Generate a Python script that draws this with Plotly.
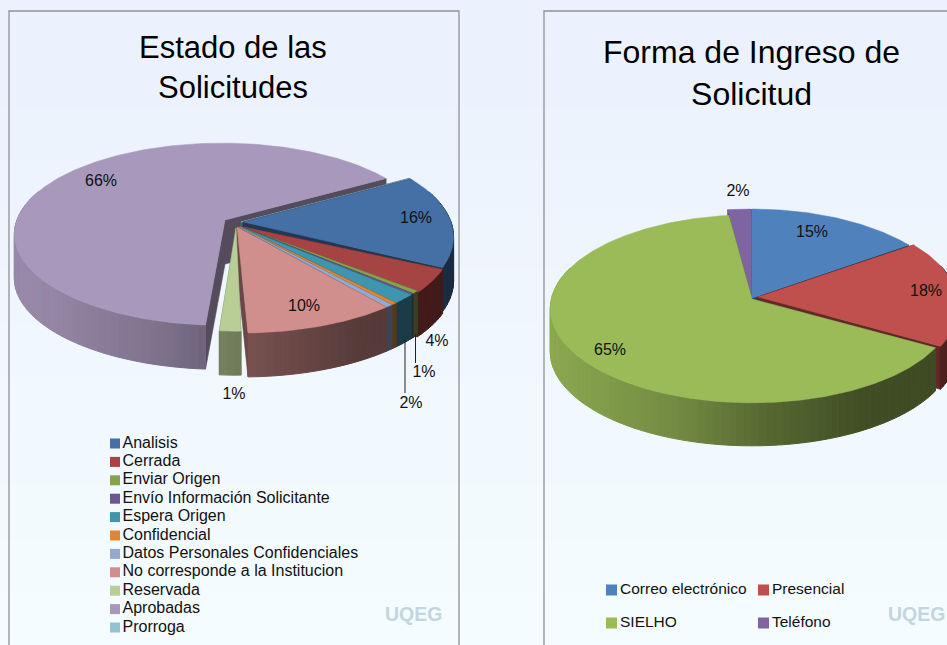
import numpy as np
import plotly.graph_objects as go

# ---------- data ----------
estado_categories = ["Analisis", "Cerrada", "Enviar Origen", "Envío Información Solicitante",
                     "Espera Origen", "Confidencial", "Datos Personales Confidenciales",
                     "No corresponde a la Institucion", "Reservada", "Aprobadas", "Prorroga"]
estado_values = [15.7, 4.0, 0.5, 0.2, 1.6, 0.4, 0.5, 10.0, 1.4, 65.5, 0.2]
estado_labels = ["66%", "16%", "10%", "4%", "1%", "2%", "1%"]
ingreso_categories = ["Correo electrónico", "Presencial", "SIELHO", "Teléfono"]
ingreso_values = [15.2, 17.8, 65.0, 2.0]
ingreso_labels = ["15%", "18%", "65%", "2%"]

# ---------- styles / layout ----------
estado_colors = ["#4470a5", "#a54442", "#87a24e", "#6e5590", "#3f95ad", "#de8537",
                 "#93a9cf", "#d08f8c", "#b9cd96", "#a898bb", "#92c3d4"]
ingreso_colors = ["#4f81bd", "#c0504d", "#9bbb59", "#8064a2"]
# rim shift (dx, dy), vertical rim scale, apex shift (dx, dy), horizontal rim scale for each slice
estado_shift = [(0, 0, 1, 0, 0, 1), (0, 2, 1, 1, 5, 1), (0, 0, 1, -1, 5, 1), (0, 0, 1, -1, 5, 1),
                (0, 0, 1, -2, 5, 1), (0, 0, 1, -3, 5, 1), (0, 0, 1, -4, 5, 1), (0, 0, 1, -6, 5, 1),
                (-7, 6, .93, -7, 6, 1), (-21, -2, .95, -18, -2, .986), (0, 0, 1, -2, 0, 1)]
ingreso_shift = [(0, 0, 1, 0, 0, 1), (5, 0, 1, 6, -1, 1), (0, 3, .97, 0, 1, 1), (-1, 0, 1, -1, 0, 1)]
estado_geo = dict(ax=243, ay=222, A=208, B=93.6, p=.156, depth=44, start=60.4)
ingreso_geo = dict(ax=752, ay=298, A=201, B=96.3, p=.0826, depth=43, start=0)

FONT = "Liberation Sans"
fig = go.Figure()


def shade(hexc, f):
    r, g, b = [int(hexc[i:i + 2], 16) for i in (1, 3, 5)]
    return f"rgb({int(r * f)},{int(g * f)},{int(b * f)})"


def poly(xs, ys, color, line=0.6, linecolor=None):
    fig.add_trace(go.Scatter(x=xs, y=ys, mode="lines", fill="toself", fillcolor=color,
                             line=dict(color=linecolor or color, width=line),
                             hoverinfo="skip", showlegend=False))


def draw_pie(values, colors, shifts, g):
    total = sum(values)
    angles = np.cumsum([0] + list(values)) / total * 360 + g["start"]

    def rim(th, sh):
        t = np.radians(th)
        d = 1 + g["p"] * np.cos(t)
        return (g["ax"] + sh[0] + sh[5] * g["A"] * np.sin(t) / d,
                g["ay"] + sh[1] - sh[2] * g["B"] * np.cos(t) / d)

    order = sorted(range(len(values)),
                   key=lambda i: -np.cos(np.radians((angles[i] + angles[i + 1]) / 2)))
    for i in order:
        th0, th1 = angles[i], angles[i + 1]
        sh = shifts[i]
        col = colors[i]
        apx, apy = g["ax"] + sh[3], g["ay"] + sh[4]
        th = np.linspace(th0, th1, max(3, int((th1 - th0) / 0.8) + 2))
        xr, yr = rim(th, sh)
        dep = g["depth"]
        # cut faces of the slice
        for k in (0, -1):
            poly([apx, xr[k], xr[k], apx, apx], [apy, yr[k], yr[k] + dep, apy + dep, apy],
                 shade(col, .5))
        # outer wall in strips, lit from the left
        n = max(2, int((th1 - th0) / 2) + 2)
        ths = np.linspace(th0, th1, n)
        for a, b in zip(ths[:-1], ths[1:]):
            tt = np.linspace(a, b, 4)
            xa, ya = rim(tt, sh)
            if np.cos(np.radians((a + b) / 2)) > 0.35:
                continue
            u = (xa.mean() - g["ax"]) / g["A"]
            f = np.interp(u, [-1, -.4, .1, .55, 1], [.9, .75, .55, .42, .40])
            poly(list(xa) + list(xa[::-1]) + [xa[0]],
                 list(ya) + list((ya + dep)[::-1]) + [ya[0]], shade(col, f), line=1.0)
        # top face
        poly([apx] + list(xr) + [apx], [apy] + list(yr) + [apy], col, line=.5)


# background bands
bg_top, bg_bot = np.array([0xec, 0xf2, 0xfd]), np.array([0xf5, 0xfc, 0xff])
for i in range(12):
    c = bg_top + (bg_bot - bg_top) * i / 11
    fig.add_shape(type="rect", xref="x", yref="y", x0=0, x1=947, y0=i * 645 / 12, y1=(i + 1) * 645 / 12,
                  fillcolor=f"rgb({int(c[0])},{int(c[1])},{int(c[2])})", line_width=0, layer="below")

# panel borders
for xs, ys in (([9, 9, 459, 459], [645, 11, 11, 645]), ([544, 544, 947], [645, 11, 11])):
    fig.add_trace(go.Scatter(x=xs, y=ys, mode="lines", line=dict(color="#8f9296", width=1.3),
                             hoverinfo="skip", showlegend=False))

draw_pie(estado_values, estado_colors, estado_shift, estado_geo)
draw_pie(ingreso_values, ingreso_colors, ingreso_shift, ingreso_geo)

# leader lines
for xs, ys in (([415.5, 415.5], [334, 363]), ([405, 405], [340, 393])):
    fig.add_trace(go.Scatter(x=xs, y=ys, mode="lines", line=dict(color="#222", width=1),
                             hoverinfo="skip", showlegend=False))

# value labels
fig.add_trace(go.Scatter(x=[101, 416, 304, 437, 424, 411, 234], y=[182, 219, 307, 342, 373, 404, 395],
                         mode="text", text=estado_labels, textposition="middle center",
                         textfont=dict(family=FONT, size=16, color="#111"),
                         hoverinfo="skip", showlegend=False))
fig.add_trace(go.Scatter(x=[812, 926, 610, 738], y=[233, 292, 351, 192],
                         mode="text", text=ingreso_labels, textposition="middle center",
                         textfont=dict(family=FONT, size=16, color="#111"),
                         hoverinfo="skip", showlegend=False))

# legends: swatches and their texts
leg_y = [443.5 + 18.4 * i for i in range(len(estado_categories))]
fig.add_trace(go.Scatter(x=[115] * len(estado_categories), y=leg_y, mode="markers",
                         marker=dict(symbol="square", size=10, color=estado_colors),
                         hoverinfo="skip", showlegend=False))
fig.add_trace(go.Scatter(x=[122.5] * len(estado_categories), y=leg_y, mode="text",
                         text=estado_categories, textposition="middle right",
                         textfont=dict(family=FONT, size=16, color="#111"),
                         hoverinfo="skip", showlegend=False))
leg2_x, leg2_y = [611.5, 763.5, 611.5, 763.5], [590, 590, 623, 623]
fig.add_trace(go.Scatter(x=leg2_x, y=leg2_y, mode="markers",
                         marker=dict(symbol="square", size=11, color=ingreso_colors),
                         hoverinfo="skip", showlegend=False))
fig.add_trace(go.Scatter(x=[v + 8.5 for v in leg2_x], y=leg2_y, mode="text",
                         text=ingreso_categories, textposition="middle right",
                         textfont=dict(family=FONT, size=15.5, color="#111"),
                         hoverinfo="skip", showlegend=False))

# titles and logo
for txt, x, y, sz in (("Estado de las<br>Solicitudes", 233, 67, 31),
                      ("Forma de Ingreso de<br>Solicitud", 751, 73, 32)):
    fig.add_annotation(x=x, y=y, text=txt, showarrow=False, xref="x", yref="y",
                       font=dict(family=FONT, size=sz, color="#000"), align="center")
for x, y in ((413, 614), (916, 614)):
    fig.add_annotation(x=x, y=y, text="<b>UQEG</b>", showarrow=False, xref="x", yref="y",
                       font=dict(family=FONT, size=19.5, color="#c3d6e0"))

fig.update_layout(width=947, height=645, margin=dict(l=0, r=0, t=0, b=0),
                  paper_bgcolor="#f1f7fe", plot_bgcolor="rgba(0,0,0,0)", showlegend=False,
                  xaxis=dict(range=[0, 947], visible=False, fixedrange=True),
                  yaxis=dict(range=[645, 0], visible=False, fixedrange=True))
fig.write_html("out.html", config={"displayModeBar": False},
               post_script="document.body.style.margin='0';document.body.style.background='#f1f7fe';")
